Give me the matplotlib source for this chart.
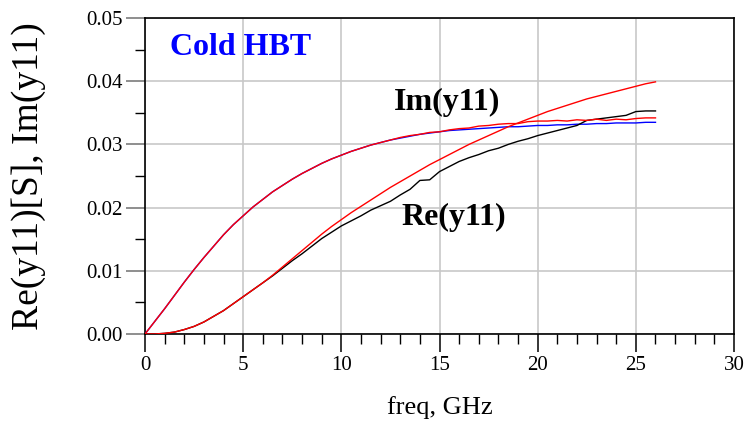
import numpy as np
import matplotlib
matplotlib.use("Agg")
import matplotlib.pyplot as plt
from matplotlib.ticker import MultipleLocator, FormatStrFormatter

plt.rcParams["font.family"] = ["Liberation Serif", "DejaVu Serif"]

# frequency sweep, GHz (0.5 GHz step)
freq = np.arange(0, 26.01, 0.5)

# Im(y11): model (blue) and measured (red)
im_model = [
    0.0000, 0.0020, 0.0040, 0.0061, 0.0082, 0.0102, 0.0121, 0.0139, 0.0157, 0.0173,
    0.0187, 0.0201, 0.0213, 0.0225, 0.0235, 0.0245, 0.0254, 0.0262, 0.0270, 0.0277,
    0.0283, 0.0289, 0.0294, 0.0299, 0.0303, 0.0307, 0.0310, 0.0313, 0.0316, 0.0318,
    0.0320, 0.0322, 0.0323, 0.0324, 0.0325, 0.0326, 0.0327, 0.0328, 0.0328, 0.0329,
    0.0330, 0.0330, 0.0331, 0.0331, 0.0332, 0.0332, 0.0333, 0.0333, 0.0334, 0.0334,
    0.0334, 0.0335, 0.0335,
]
im_meas = [
    0.0000, 0.0020, 0.0040, 0.0061, 0.0082, 0.0102, 0.0121, 0.0139, 0.0157, 0.0173,
    0.0187, 0.0201, 0.0213, 0.0225, 0.0235, 0.0245, 0.0254, 0.0262, 0.0270, 0.0277,
    0.0283, 0.0289, 0.0294, 0.0299, 0.0303, 0.0307, 0.0311, 0.0314, 0.0316, 0.0319,
    0.0320, 0.0323, 0.0325, 0.0326, 0.0329, 0.0330, 0.0332, 0.0333, 0.0333, 0.0336,
    0.0337, 0.0337, 0.0338, 0.0337, 0.0339, 0.0338, 0.0340, 0.0338, 0.0340, 0.0339,
    0.0341, 0.0342, 0.0342,
]

# Re(y11): model (red) and measured (black)
re_model = [
    0.0000, 0.0000, 0.0001, 0.0003, 0.0007, 0.0012, 0.0019, 0.0028, 0.0037, 0.0048,
    0.0059, 0.0070, 0.0081, 0.0093, 0.0106, 0.0119, 0.0132, 0.0145, 0.0158, 0.0170,
    0.0181, 0.0192, 0.0202, 0.0212, 0.0222, 0.0232, 0.0241, 0.0250, 0.0259, 0.0268,
    0.0276, 0.0284, 0.0292, 0.0300, 0.0307, 0.0314, 0.0321, 0.0328, 0.0334, 0.0340,
    0.0346, 0.0352, 0.0357, 0.0362, 0.0367, 0.0372, 0.0376, 0.0380, 0.0384, 0.0388,
    0.0392, 0.0396, 0.0399,
]
re_meas = [
    0.0000, 0.0000, 0.0001, 0.0003, 0.0007, 0.0012, 0.0019, 0.0028, 0.0037, 0.0048,
    0.0059, 0.0070, 0.0081, 0.0092, 0.0104, 0.0116, 0.0127, 0.0139, 0.0151, 0.0161,
    0.0171, 0.0179, 0.0187, 0.0196, 0.0203, 0.0210, 0.0220, 0.0229, 0.0243, 0.0244,
    0.0257, 0.0265, 0.0273, 0.0279, 0.0284, 0.0290, 0.0294, 0.0300, 0.0305, 0.0309,
    0.0314, 0.0318, 0.0322, 0.0326, 0.0330, 0.0338, 0.0340, 0.0342, 0.0344, 0.0346,
    0.0352, 0.0353, 0.0353,
]

fig = plt.figure(figsize=(7.49, 4.30), dpi=100, facecolor="white")
ax = fig.add_axes([0.1936, 0.2233, 0.7864, 0.7347])

ax.plot(freq, im_model, color="#0000ff", lw=1.0, zorder=3)
ax.plot(freq, re_meas, color="black", lw=1.0, zorder=3)
ax.plot(freq, im_meas, color="#ff0000", lw=1.0, zorder=4)
ax.plot(freq, re_model, color="#ff0000", lw=1.0, zorder=4)

ax.set_xlim(0, 30)
ax.set_ylim(0, 0.05)
ax.xaxis.set_major_locator(MultipleLocator(5))
ax.xaxis.set_minor_locator(MultipleLocator(1))
ax.yaxis.set_major_locator(MultipleLocator(0.01))
ax.yaxis.set_minor_locator(MultipleLocator(0.005))
ax.yaxis.set_major_formatter(FormatStrFormatter("%.2f"))

ax.grid(True, which="major", color="#c8c8c8", lw=1.2, zorder=0)
for s in ax.spines.values():
    s.set_linewidth(1.2)
    s.set_color("black")

ax.tick_params(axis="both", which="both", direction="out", labelsize=15)
ax.tick_params(axis="x", which="major", length=13, width=1.1, pad=3)
ax.tick_params(axis="x", which="minor", length=7, width=1.0)
ax.tick_params(axis="y", which="major", length=14, width=1.1, color="#707070", pad=2)
ax.tick_params(axis="y", which="minor", length=7, width=1.0)

ax.set_xlabel("freq, GHz", fontsize=19, va="top")
ax.xaxis.set_label_coords(0.5, -0.195)
ax.set_ylabel("Re(y11)[S], Im(y11)", fontsize=27)
ax.yaxis.set_label_coords(-0.168, 0.5)

ax.text(0.042, 0.908, "Cold HBT", transform=ax.transAxes, fontsize=23,
        fontweight="bold", color="#0000ff", ha="left", va="center")
ax.text(15.36, 0.0366, "Im(y11)", fontsize=23, fontweight="bold",
        ha="center", va="center", zorder=5)
ax.text(15.74, 0.0185, "Re(y11)", fontsize=23, fontweight="bold",
        ha="center", va="center", zorder=5)

fig.savefig("out.png", dpi=100, facecolor="white")
